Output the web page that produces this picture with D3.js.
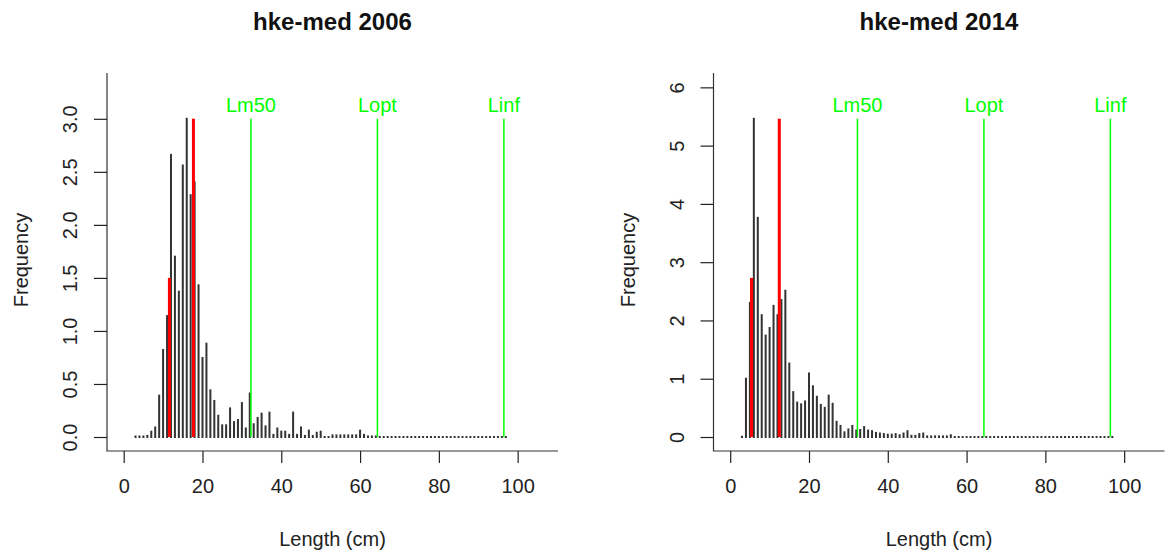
<!DOCTYPE html>
<html><head><meta charset="utf-8">
<script src="https://cdn.jsdelivr.net/npm/d3@7"></script>
<style>body{margin:0;background:#fff}svg{display:block}text{font-family:"Liberation Sans",Arial,sans-serif}</style>
</head><body>
<svg id="chart" width="1173" height="559"></svg>
<script>
const lengths = [3,4,5,6,7,8,9,10,11,12,13,14,15,16,17,18,19,20,21,22,23,24,25,26,27,28,29,30,31,32,33,34,35,36,37,38,39,40,41,42,43,44,45,46,47,48,49,50,51,52,53,54,55,56,57,58,59,60,61,62,63,64,65,66,67,68,69,70,71,72,73,74,75,76,77,78,79,80,81,82,83,84,85,86,87,88,89,90,91,92,93,94,95,96,97];

const freq2006 = [0.005,0.005,0.005,0.01,0.05,0.09,0.39,0.82,1.14,2.66,
1.70,1.37,2.56,3.00,2.28,2.40,1.43,0.745,0.88,0.44,
0.34,0.20,0.11,0.11,0.27,0.14,0.16,0.32,0.08,0.41,
0.12,0.18,0.22,0.10,0.23,0.02,0.08,0.05,0.05,0.02,
0.23,0.02,0.09,0.01,0.06,0.01,0.04,0.05,0,0,
0.015,0.015,0.015,0.015,0.015,0.015,0.015,0.06,0.02,0.005,
0.005,0.005,
0,0,0,0,0,0,0,0,0,0,0,0,0,0,0,0,0,0,0,0,0,0,0,0,0,0,0,0,0,0,0,0,0];

const freq2014 = [0.005,1.0,2.30,5.46,3.76,2.09,1.74,1.87,2.25,2.09,
2.35,2.51,1.26,0.77,0.59,0.56,0.61,1.09,0.87,0.69,
0.55,0.50,0.71,0.57,0.26,0.19,0.08,0.13,0.19,0.11,
0.12,0.17,0.11,0.10,0.07,0.06,0.05,0.04,0.04,0.05,
0.03,0.06,0.10,0.02,0.02,0.05,0.06,0.01,0.01,0.01,
0.01,0.01,0.01,0.03,
0,0,0,0,0,0,0,0,0,0,0,0,0,0,0,0,0,0,0,0,0,0,0,0,0,0,0,0,0,0,0,0,0,0,0,0,0,0,0,0,0];

const titles = ["hke-med 2006", "hke-med 2014"];
const redLines2006 = [11.6, 17.7];   // Lc (half height), Lmean (full height)
const redLines2014 = [5.4, 12.46];
const greenNames = ["Lm50", "Lopt", "Linf"];
const greenValues = [32.3, 64.4, 96.5];
const xTicks = [0, 20, 40, 60, 80, 100];
const yTicks2006 = [0, 0.5, 1.0, 1.5, 2.0, 2.5, 3.0];
const yTicks2014 = [0, 1, 2, 3, 4, 5, 6];
const xLimits = [0, 106];

const svg = d3.select("#chart");

function panel(offsetX, title, values, reds, yTicks, yFmt) {
  const left = 107 + offsetX, right = 558 + offsetX, top = 73, bottom = 451;
  const g = svg.append("g");
  const maxV = d3.max(values);
  const yl = [0, maxV * 1.1];
  const yr = yl[1] - yl[0];
  const xr = xLimits[1] - xLimits[0];
  const x = d3.scaleLinear().domain([xLimits[0] - 0.04 * xr, xLimits[1] + 0.04 * xr]).range([left, right]);
  const y = d3.scaleLinear().domain([yl[0] - 0.04 * yr, yl[1] + 0.04 * yr]).range([bottom, top]);

  // bars (type = "h")
  g.selectAll("rect.bar").data(lengths.map((l, i) => ({l, v: values[i]}))).enter()
    .append("rect").attr("class", "bar")
    .attr("x", d => x(d.l) - 1).attr("width", 2)
    .attr("y", d => y(d.v) - 1)
    .attr("height", d => Math.max(2, y(0) - y(d.v) + 2))
    .attr("fill", "#333");

  // red lines
  const redH = [maxV / 2, maxV];
  reds.forEach((r, i) => {
    g.append("line").attr("x1", x(r)).attr("x2", x(r)).attr("y1", y(0)).attr("y2", y(redH[i]))
      .attr("stroke", "#ff0000").attr("stroke-width", 3);
  });
  // green lines
  greenValues.forEach((gv, i) => {
    g.append("line").attr("x1", x(gv)).attr("x2", x(gv)).attr("y1", y(0)).attr("y2", y(maxV))
      .attr("stroke", "#00ff00").attr("stroke-width", 1.5);
    g.append("text").attr("x", x(gv)).attr("y", y(maxV) - 7).attr("text-anchor", "middle")
      .attr("font-size", 20).attr("fill", "#00ff00").text(greenNames[i]);
  });

  // axes frame (bty = "l")
  g.append("path").attr("d", `M${left},${top}V${bottom}H${right}`)
    .attr("fill", "none").attr("stroke", "#333").attr("stroke-width", 1.2);

  // x axis ticks
  const xa = g.append("g").attr("transform", `translate(0,${bottom})`)
    .call(d3.axisBottom(x).tickValues(xTicks).tickSize(12).tickPadding(16).tickFormat(d3.format("d")));
  xa.select(".domain").remove();
  xa.selectAll("line").attr("stroke", "#222").attr("stroke-width", 1.2);
  xa.selectAll("text").attr("font-size", 20).attr("fill", "#222").attr("font-family", "Liberation Sans, Arial, sans-serif");

  // y axis ticks
  const ya = g.append("g").attr("transform", `translate(${left},0)`)
    .call(d3.axisLeft(y).tickValues(yTicks).tickSize(13).tickFormat(yFmt));
  ya.select(".domain").remove();
  ya.selectAll("line").attr("stroke", "#222").attr("stroke-width", 1.2);
  ya.selectAll("text").remove();
  ya.selectAll(".tick").append("text")
    .attr("transform", "translate(-30,0) rotate(-90)")
    .attr("text-anchor", "middle").attr("x", 0).attr("y", 0)
    .attr("font-size", 20).attr("fill", "#222")
    .text(d => yFmt(d));

  // titles and labels
  const cx = (left + right) / 2;
  g.append("text").attr("x", cx).attr("y", 30).attr("text-anchor", "middle")
    .attr("font-size", 24).attr("font-weight", "bold").attr("fill", "#111").text(title);
  g.append("text").attr("x", cx).attr("y", 546).attr("text-anchor", "middle")
    .attr("font-size", 20).attr("fill", "#222").text("Length (cm)");
  g.append("text").attr("transform", `translate(${left - 79},${(top + bottom) / 2 - 2}) rotate(-90)`)
    .attr("text-anchor", "middle").attr("font-size", 20).attr("fill", "#222").text("Frequency");
}

panel(0, titles[0], freq2006, redLines2006, yTicks2006, d3.format(".1f"));
panel(606.5, titles[1], freq2014, redLines2014, yTicks2014, d3.format("d"));
</script>
</body></html>
